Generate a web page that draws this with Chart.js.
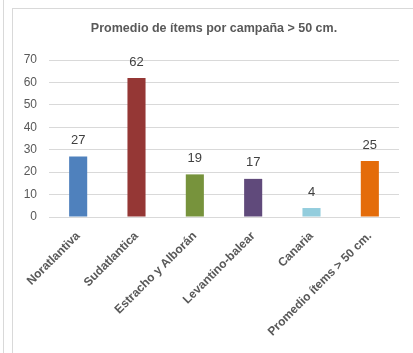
<!DOCTYPE html>
<html>
<head>
<meta charset="utf-8">
<script src="https://cdn.jsdelivr.net/npm/chart.js@4"></script>
<style>
  html, body { margin: 0; padding: 0; background: #fff; }
  #wrap { position: relative; width: 413px; height: 353px; overflow: hidden; }
  .edge { position: absolute; background: #d9d9d9; }
  #chart { position: absolute; left: 0; top: 0; }
</style>
</head>
<body>
<div id="wrap">
  <div class="edge" style="left:3px; top:0; width:1px; height:353px;"></div>
  <div class="edge" style="left:12px; top:8px; width:1px; height:345px;"></div>
  <div class="edge" style="left:12px; top:8px; width:401px; height:1px;"></div>
  <canvas id="chart" width="413" height="353"></canvas>
</div>
<script>
const categories = ['Noratlantiva', 'Sudatlantica', 'Estracho y Alborán', 'Levantino-balear', 'Canaria', 'Promedio ítems > 50 cm.'];
const itemValues = [27, 62, 19, 17, 4, 25];
const barColors = ['#4f81bd', '#953735', '#77933c', '#604a7b', '#93cddd', '#e46c0a'];
const yTicks = [0, 10, 20, 30, 40, 50, 60, 70];
const chartTitle = 'Promedio de ítems por campaña > 50 cm.';

const FONT = '"Liberation Sans", Arial, sans-serif';

// title centred over the plot area, plus value labels above each bar
const valueLabels = {
  id: 'valueLabels',
  afterDatasetsDraw(chart) {
    const ctx = chart.ctx;
    const area = chart.chartArea;
    ctx.save();
    ctx.font = 'bold 12.5px ' + FONT;
    ctx.fillStyle = '#595959';
    ctx.textAlign = 'center';
    ctx.textBaseline = 'middle';
    ctx.fillText(chartTitle, (area.left + area.right) / 2 - 10, 29);

    const meta = chart.getDatasetMeta(0);
    ctx.font = '13px ' + FONT;
    ctx.fillStyle = '#404040';
    meta.data.forEach((bar, i) => {
      ctx.fillText(String(chart.data.datasets[0].data[i]), bar.x, bar.y - 16);
    });
    ctx.restore();
  }
};

new Chart(document.getElementById('chart').getContext('2d'), {
  type: 'bar',
  data: {
    labels: categories,
    datasets: [{
      data: itemValues,
      backgroundColor: barColors,
      barPercentage: 0.62,
      categoryPercentage: 0.5,
    }],
  },
  options: {
    responsive: false,
    animation: false,
    layout: { padding: { left: 12, right: 14, top: 60, bottom: 0 } },
    scales: {
      x: {
        grid: { display: false },
        border: { color: '#d9d9d9' },
        ticks: {
          color: '#595959',
          font: { family: FONT, size: 12, weight: 'bold' },
          minRotation: 45,
          maxRotation: 45,
          padding: 4,
        },
        afterFit: (s) => { s.height = 136; },
      },
      y: {
        min: 0,
        max: 70,
        afterBuildTicks: (s) => { s.ticks = yTicks.map(v => ({ value: v })); },
        grid: { color: '#d9d9d9', drawTicks: false },
        border: { display: false },
        ticks: {
          color: '#595959',
          font: { family: FONT, size: 12 },
          padding: 12,
        },
        afterFit: (s) => { s.width = 37; },
      },
    },
    plugins: {
      legend: { display: false },
      tooltip: { enabled: false },
      title: { display: false },
    },
  },
  plugins: [valueLabels],
});
</script>
</body>
</html>
